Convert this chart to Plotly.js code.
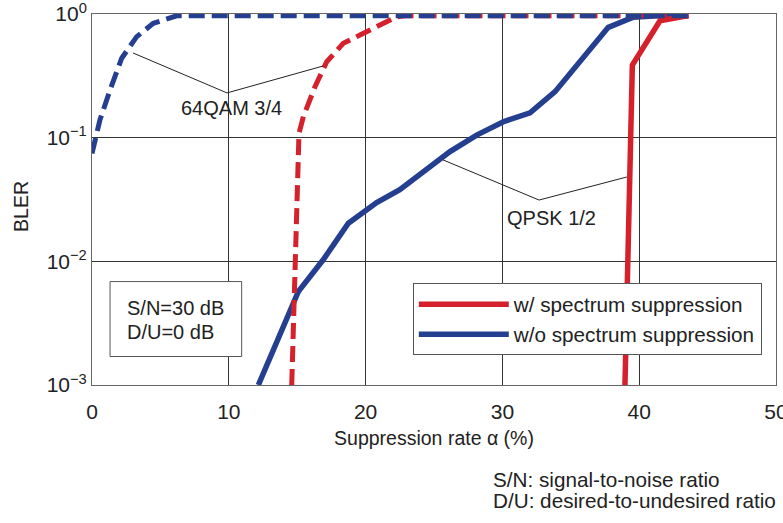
<!DOCTYPE html>
<html>
<head>
<meta charset="utf-8">
<script src="https://cdn.plot.ly/plotly-3.0.1.min.js"></script>
<style>html,body{margin:0;padding:0;background:#fff;}#chart{width:783px;height:523px;}</style>
</head>
<body>
<div id="chart"></div>
<script>
// QPSK 1/2, w/o spectrum suppression (blue solid)
const qpskWoX = [12.16, 15.08, 16.9, 18.74, 20.81, 22.5, 26.17, 28.12, 30.07, 32.02, 33.85, 35.67, 37.74, 39.57, 41.28, 43.6];
const qpskWoY = [0.001, 0.00569, 0.0103, 0.0203, 0.0299, 0.038, 0.0771, 0.105, 0.1346, 0.159, 0.2355, 0.411, 0.78, 0.94, 0.97, 0.97];
// QPSK 1/2, w/ spectrum suppression (red solid)
const qpskWX = [38.96, 39.5, 41.52, 43.6];
const qpskWY = [0.001, 0.387, 0.883, 0.97];
// 64QAM 3/4, w/ spectrum suppression (red dashed)
const qamWX = [14.6, 14.96, 15.13, 15.45, 16.3, 17.16, 18.37, 19.59, 20.81, 22.27, 23.0, 43.6];
const qamWY = [0.001, 0.04, 0.108, 0.148, 0.258, 0.411, 0.579, 0.676, 0.789, 0.95, 0.97, 0.97];
// 64QAM 3/4, w/o spectrum suppression (blue dashed)
const qamWoX = [0, 0.58, 1.32, 2.17, 3.27, 4.48, 6.19, 8.4, 43.6];
const qamWoY = [0.0746, 0.139, 0.243, 0.439, 0.656, 0.841, 0.968, 0.97, 0.97];

const yTickVals = [0.001, 0.01, 0.1, 1];
const yTickText = ['10<sup>\u22123</sup>', '10<sup>\u22122</sup>', '10<sup>\u22121</sup>', '10<sup>0</sup>'];
const xTickVals = [0, 10, 20, 30, 40, 50];

const seriesNames = ['w/ spectrum suppression', 'w/o spectrum suppression'];
const RED = '#d4212b';
const BLUE = '#243f8f';

// leader lines for the curve labels: [x, BLER] vertices
const qamLeader = [[3.0, 0.484], [9.87, 0.23], [16.9, 0.38]];
const qpskLeader = [[25.66, 0.0661], [32.68, 0.0313], [39.1, 0.0481]];
// condition box corners [x0, x1], [BLER0, BLER1]
const boxX = [1.32, 10.94];
const boxY = [0.0017, 0.00686];

const FONT = 'Liberation Sans, Arial, Helvetica, sans-serif';
const TXT = '#222';

function leader(pts) {
  const out = [];
  for (let i = 0; i < pts.length - 1; i++) {
    out.push({type: 'line', xref: 'x', yref: 'y',
      x0: pts[i][0], y0: pts[i][1], x1: pts[i + 1][0], y1: pts[i + 1][1],
      line: {color: TXT, width: 1}});
  }
  return out;
}

const traces = [
  {x: qpskWoX, y: qpskWoY, mode: 'lines', name: seriesNames[1], legendrank: 2,
   line: {color: BLUE, width: 5.5}},
  {x: qamWX, y: qamWY, mode: 'lines', showlegend: false,
   line: {color: RED, width: 5, dash: '16px,7px'}},
  {x: qpskWX, y: qpskWY, mode: 'lines', name: seriesNames[0], legendrank: 1,
   line: {color: RED, width: 5.5}},
  {x: qamWoX, y: qamWoY, mode: 'lines', showlegend: false,
   line: {color: BLUE, width: 5, dash: '16px,7px'}}
];

const layout = {
  width: 783, height: 523,
  margin: {l: 92, r: 7, t: 14, b: 138},
  paper_bgcolor: '#fff', plot_bgcolor: '#fff',
  font: {family: FONT, size: 20, color: TXT},
  showlegend: true,
  legend: {
    x: 0.469, y: 0.274, xanchor: 'left', yanchor: 'top',
    bgcolor: '#fff', bordercolor: '#555', borderwidth: 1,
    font: {family: FONT, size: 20.7, color: TXT},
    itemwidth: 90, tracegroupgap: 0, traceorder: 'normal'
  },
  xaxis: {
    range: [0, 50], tickvals: xTickVals, ticks: 'outside', ticklen: 8,
    tickcolor: 'rgba(0,0,0,0)', ticklabeloverflow: 'allow',
    showgrid: true, gridcolor: '#333', gridwidth: 1, zeroline: false,
    showline: true, linecolor: '#666', linewidth: 1, mirror: true,
    tickfont: {family: FONT, size: 21, color: TXT},
    title: {text: 'Suppression rate \u03b1 (%)', standoff: 9,
            font: {family: FONT, size: 19.5, color: TXT}}
  },
  yaxis: {
    type: 'log', range: [-3, 0], tickvals: yTickVals, ticktext: yTickText,
    ticks: '', ticklabeloverflow: 'allow',
    showgrid: true, gridcolor: '#333', gridwidth: 1, zeroline: false,
    showline: true, linecolor: '#666', linewidth: 1, mirror: true,
    tickfont: {family: FONT, size: 21, color: TXT}
  },
  shapes: leader(qamLeader).concat(leader(qpskLeader)).concat([
    {type: 'rect', xref: 'x', yref: 'y', x0: boxX[0], x1: boxX[1], y0: boxY[0], y1: boxY[1],
     fillcolor: '#fff', line: {color: '#555', width: 1}, layer: 'above'}
  ]),
  annotations: [
    {text: 'BLER', xref: 'paper', yref: 'paper', x: -0.1038, y: 0.48, textangle: -90,
     xanchor: 'center', yanchor: 'middle', showarrow: false,
     font: {family: FONT, size: 19.5, color: TXT}},
    {text: '64QAM 3/4', xref: 'x', yref: 'y', x: 10.2, y: -0.76, showarrow: false,
     font: {family: FONT, size: 20, color: TXT}},
    {text: 'QPSK 1/2', xref: 'x', yref: 'y', x: 33.6, y: -1.649, showarrow: false,
     font: {family: FONT, size: 20, color: TXT}},
    {text: 'S/N=30 dB', xref: 'x', yref: 'y', x: 2.4, y: -2.38, xanchor: 'left', showarrow: false,
     font: {family: FONT, size: 20, color: TXT}},
    {text: 'D/U=0 dB', xref: 'x', yref: 'y', x: 2.4, y: -2.57, xanchor: 'left', showarrow: false,
     font: {family: FONT, size: 20, color: TXT}},
    {text: 'S/N: signal-to-noise ratio', xref: 'paper', yref: 'paper', x: 0.584, y: -0.255,
     xanchor: 'left', yanchor: 'middle', showarrow: false, font: {family: FONT, size: 20.7, color: TXT}},
    {text: 'D/U: desired-to-undesired ratio', xref: 'paper', yref: 'paper', x: 0.584, y: -0.312,
     xanchor: 'left', yanchor: 'middle', showarrow: false, font: {family: FONT, size: 20.7, color: TXT}}
  ]
};

Plotly.newPlot('chart', traces, layout, {displayModeBar: false, staticPlot: true});
</script>
</body>
</html>
